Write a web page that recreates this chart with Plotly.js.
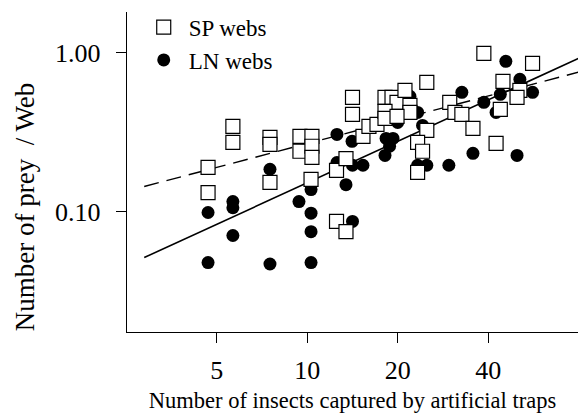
<!DOCTYPE html>
<html>
<head>
<meta charset="utf-8">
<script src="https://cdn.plot.ly/plotly-3.0.1.min.js"></script>
<style>html,body{margin:0;padding:0;background:#fff;}#chart{width:582px;height:413px;}</style>
</head>
<body>
<div id="chart"></div>
<script>
// SP webs (open squares)
const spInsects = [4.68,4.68,5.66,5.66,7.52,7.52,7.52,9.46,10.37,9.46,10.37,10.37,10.30,12.52,13.46,12.52,13.46,14.15,14.15,15.33,16.05,17.07,18.15,19.15,19.9,21.15,21.97,21.97,18.15,18.15,19.9,25.0,23.3,24.2,23.3,25.0,29.8,31.0,32.7,35.6,42.5,38.7,56.2,44.8,51.0,49.9,43.9];
const spPrey = [0.190,0.132,0.344,0.273,0.293,0.265,0.153,0.298,0.298,0.240,0.258,0.220,0.160,0.087,0.075,0.182,0.216,0.524,0.409,0.298,0.344,0.354,0.524,0.524,0.487,0.579,0.466,0.421,0.427,0.386,0.398,0.325,0.273,0.240,0.177,0.651,0.487,0.421,0.409,0.334,0.269,0.99,0.856,0.660,0.579,0.524,0.440];
// LN webs (filled circles)
const lnInsects = [4.68,4.68,5.66,5.66,5.66,7.52,7.52,9.39,10.30,10.30,10.30,10.30,12.56,12.56,13.46,14.1,14.15,15.33,14.15,18.3,19.3,18.8,18.15,21.97,23.3,20.0,23.3,25.0,29.6,32.7,38.7,42.5,35.6,49.9,45.8,51.0,43.9,56.2,24.2];
const lnPrey = [0.099,0.048,0.116,0.106,0.071,0.185,0.047,0.116,0.138,0.098,0.075,0.048,0.306,0.204,0.148,0.277,0.196,0.196,0.087,0.289,0.289,0.258,0.226,0.531,0.421,0.364,0.196,0.196,0.196,0.563,0.487,0.421,0.233,0.226,0.882,0.679,0.547,0.563,0.349];
// Fitted regression lines (end points)
const fitX = [2.87, 82];
const lnFitY = [0.0516, 0.94];
const spFitY = [0.1442, 0.763];
// Tick labels
const xTicks = [5, 10, 20, 40];
const xTickText = ['5', '10', '20', '40'];
const yTicks = [0.1, 1];
const yTickText = ['0.10', '1.00'];

const serif = 'Liberation Serif, Times New Roman, serif';

const traces = [
  {x: fitX, y: lnFitY, mode: 'lines', line: {color: '#000', width: 1.6}, showlegend: false, hoverinfo: 'skip'},
  {x: fitX, y: spFitY, mode: 'lines', line: {color: '#000', width: 1.4, dash: '15px,8px'}, showlegend: false, hoverinfo: 'skip'},
  {x: lnInsects, y: lnPrey, mode: 'markers', name: 'LN webs', legendgroup: 'b', legendrank: 2,
   marker: {symbol: 'circle', size: 13, color: '#000', line: {width: 0}}},
  {x: spInsects, y: spPrey, mode: 'markers', name: 'SP webs', legendgroup: 'a', legendrank: 1,
   marker: {symbol: 'square', size: 14, color: '#fff', line: {color: '#000', width: 1.2}}}
];

const layout = {
  width: 582, height: 413,
  margin: {l: 127, r: 4, t: 12, b: 81},
  paper_bgcolor: '#fff', plot_bgcolor: '#fff',
  font: {family: serif, color: '#000'},
  showlegend: true,
  legend: {x: 0.026, y: 1.02, xanchor: 'left', yanchor: 'top', traceorder: 'grouped',
           itemwidth: 40, tracegroupgap: 0, font: {family: serif, size: 23, color: '#000'}, bgcolor: 'rgba(0,0,0,0)'},
  xaxis: {
    type: 'log', range: [0.4006, 1.9009],
    tickvals: xTicks, ticktext: xTickText,
    ticks: 'outside', ticklen: 10, tickwidth: 1.3, tickcolor: '#000',
    ticklabelstandoff: 4,
    showline: true, linecolor: '#000', linewidth: 1.3, mirror: false,
    showgrid: false, zeroline: false,
    tickfont: {family: serif, size: 26, color: '#000'},
    title: {text: 'Number of insects captured by artificial traps', font: {family: serif, size: 22.5, color: '#000'}, standoff: 12},
    automargin: false
  },
  yaxis: {
    type: 'log', range: [-1.755, 0.255],
    tickvals: yTicks, ticktext: yTickText,
    ticks: 'outside', ticklen: 10, tickwidth: 1.3, tickcolor: '#000',
    ticklabelstandoff: 10,
    showline: true, linecolor: '#000', linewidth: 1.3, mirror: false,
    showgrid: false, zeroline: false,
    tickfont: {family: serif, size: 26, color: '#000'},
    automargin: false
  },
  annotations: [{
    text: 'Number of prey &nbsp;/ Web', textangle: -90, showarrow: false,
    xref: 'paper', yref: 'paper', x: -0.226, y: 0.39, xanchor: 'center', yanchor: 'middle',
    font: {family: serif, size: 27, color: '#000'}
  }]
};

Plotly.newPlot('chart', traces, layout, {displayModeBar: false, staticPlot: true});
</script>
</body>
</html>
